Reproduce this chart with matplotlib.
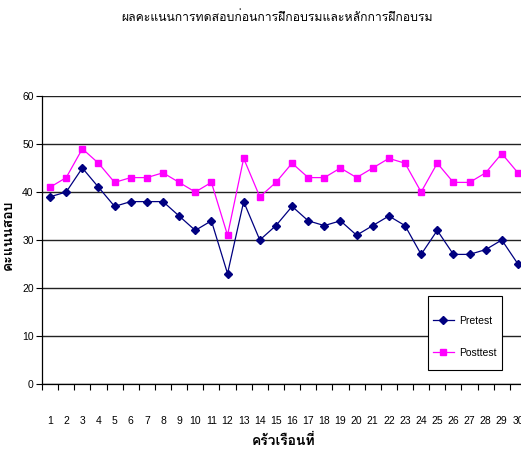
import numpy as np
import matplotlib
matplotlib.use('Agg')
import matplotlib.pyplot as plt
from matplotlib import font_manager
from matplotlib.ft2font import FT2Font
from matplotlib.patches import Rectangle

# Chart data
households = list(range(1, 31))
pretest = [39, 40, 45, 41, 37, 38, 38, 38, 35, 32, 34, 23, 38, 30, 33,
           37, 34, 33, 34, 31, 33, 35, 33, 27, 32, 27, 27, 28, 30, 25]
posttest = [41, 43, 49, 46, 42, 43, 43, 44, 42, 40, 42, 31, 47, 39, 42,
            46, 43, 43, 45, 43, 45, 47, 46, 40, 46, 42, 42, 44, 48, 44]
y_ticks = [0, 10, 20, 30, 40, 50, 60]

title_text = 'ผลคะแนนการทดสอบก่อนการฝึกอบรมและหลักการฝึกอบรม'
xlabel_text = 'ครัวเรือนที่'
ylabel_text = 'คะแนนสอบ'
series_names = ['Pretest', 'Posttest']


# Step 1: find an installed font that has Thai glyphs
def find_thai_family():
    for entry in font_manager.fontManager.ttflist:
        try:
            cmap = FT2Font(entry.fname).get_charmap()
        except Exception:
            continue
        if 0x0E01 in cmap and 0x0E04 in cmap:
            return entry.name
    return 'DejaVu Sans'


def pick_family(candidates):
    names = {f.name for f in font_manager.fontManager.ttflist}
    for name in candidates:
        if name in names:
            return name
    return 'DejaVu Sans'


thai_family = find_thai_family()
narrow_family = pick_family(['Liberation Sans Narrow', 'Liberation Sans', 'DejaVu Sans'])
thai_fonts = [thai_family, 'DejaVu Sans']

# Step 2: figure and axes placed in pixel terms
W, H = 521, 451
fig = plt.figure(figsize=(W / 100, H / 100), dpi=100)
ax_left, ax_right, ax_top, ax_bottom = 42, 526, 96, 384
ax = fig.add_axes([ax_left / W, 1 - ax_bottom / H,
                   (ax_right - ax_left) / W, (ax_bottom - ax_top) / H])

# Step 3: the two series
ax.plot(households, pretest, color='#000080', lw=0.9, marker='D',
        markersize=4.0, label=series_names[0], zorder=3)
ax.plot(households, posttest, color='#FF00FF', lw=0.9, marker='s',
        markersize=4.2, label=series_names[1], zorder=3)

# Step 4: axes styling
ax.set_xlim(0.5, 30.5)
ax.set_ylim(0, 60)
ax.set_yticks(y_ticks)
ax.set_xticks(households)
ax.set_xticks(np.arange(0.5, 31, 1), minor=True)
ax.tick_params(axis='x', which='major', length=0, pad=23,
               labelsize=7.5, labelfontfamily=narrow_family)
ax.tick_params(axis='x', which='minor', length=4, width=0.8, direction='out')
ax.tick_params(axis='y', length=4, width=0.8, pad=2,
               labelsize=7.5, labelfontfamily=narrow_family)
ax.yaxis.grid(True, color='#222222', lw=1.0)
ax.set_axisbelow(True)
for side in ['top', 'right']:
    ax.spines[side].set_visible(False)
for side in ['left', 'bottom']:
    ax.spines[side].set_linewidth(0.9)

# Step 5: labels and title
ax.set_xlabel(xlabel_text, family=thai_fonts, fontsize=10, fontweight='bold', labelpad=6)
ax.set_ylabel(ylabel_text, family=thai_fonts, fontsize=10, fontweight='bold')
ax.yaxis.set_label_coords((15 - ax_left) / (ax_right - ax_left),
                          (ax_bottom - 235) / (ax_bottom - ax_top))
fig.text(277 / W, 1 - 18 / H, title_text, family=thai_fonts, fontsize=8.8,
         ha='center', va='center')

# Step 6: legend with a plain rectangular box
box_x0, box_x1, box_y0, box_y1 = 428, 502, 296, 370
to_ax = lambda px, py: ((px - ax_left) / (ax_right - ax_left),
                        (ax_bottom - py) / (ax_bottom - ax_top))
bx, by = to_ax(box_x0, box_y1)
bw = (box_x1 - box_x0) / (ax_right - ax_left)
bh = (box_y1 - box_y0) / (ax_bottom - ax_top)
ax.add_patch(Rectangle((bx, by), bw, bh, transform=ax.transAxes,
                       facecolor='white', edgecolor='black', lw=0.8, zorder=4))
# borderpad (1.9 * 7.5pt ~ 20px) also applies horizontally, so shift the anchor left
lx, ly = to_ax(413, box_y0)
leg = ax.legend(loc='upper left', bbox_to_anchor=(lx, ly), frameon=False,
                borderaxespad=0, borderpad=1.9, labelspacing=2.1,
                handlelength=2.0, handletextpad=0.5,
                prop={'family': narrow_family, 'size': 7.5})
leg.set_zorder(5)

fig.savefig('out.png', dpi=100)
